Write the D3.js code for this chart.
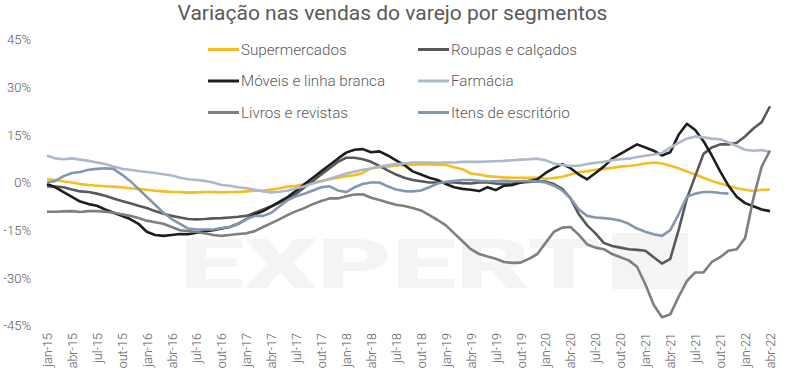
<!DOCTYPE html>
<html>
<head>
<meta charset="utf-8">
<script src="https://cdn.jsdelivr.net/npm/d3@7"></script>
<style>
  body { margin: 0; background: #fff; }
  text { font-family: Roboto, "Open Sans", sans-serif; font-weight: 300; fill: #595959; }
</style>
</head>
<body>
<svg width="792" height="381"></svg>
<script>
// month categories: jan-15 .. abr-22
var monthNames = ["jan","fev","mar","abr","mai","jun","jul","ago","set","out","nov","dez"];
var years = ["15","16","17","18","19","20","21","22"];
var months = [];
years.forEach(function(y) { monthNames.forEach(function(m) { months.push(m + "-" + y); }); });
months = months.slice(0, 88);

var yTicks = [-45, -30, -15, 0, 15, 30, 45];

var supermercados = [1, 0.8, 0.3, 0, -0.5, -0.8, -1, -1.2, -1.3, -1.5, -1.8, -2,
  -2.3, -2.6, -2.8, -3, -3, -3.2, -3.1, -3, -3, -3.1, -3, -3,
  -2.8, -2.6, -2.5, -2.2, -1.8, -1.3, -1, -0.5, 0, 0.5, 1, 1.5,
  2, 2.3, 3, 4.5, 4.8, 5, 5.3, 5.5, 5.6, 5.7, 5.7, 5.6,
  5.5, 4.8, 4.2, 2.8, 2.5, 2, 1.8, 1.6, 1.5, 1.5, 1.5, 1.5,
  1.2, 1.4, 1.8, 2.5, 3.2, 3.5, 4, 4.3, 4.6, 5, 5.2, 5.5,
  6, 6.3, 6, 5.3, 4.5, 3.5, 2.5, 1.5, 0.5, -0.3, -1, -1.8,
  -2.3, -2.7, -2.3, -2.2];

var roupas = [-1.2, -1.3, -1.5, -2.2, -2.8, -3, -3.5, -4.2, -5, -5.8, -6.5, -7.3,
  -8, -9, -9.8, -10.5, -11, -11.5, -11.6, -11.5, -11.3, -11.2, -11, -10.8,
  -10.5, -9.5, -8.5, -7.5, -6.3, -5, -3.5, -1.5, 0.5, 2.5, 4.5, 6.5,
  7.8, 7.8, 7.3, 6.5, 5.2, 3.8, 2.5, 1.5, 0.8, 0.4, 0, 0,
  0, 0, -0.2, -0.3, 0, 0, -0.3, -0.5, -0.3, 0, 0.2, 0.4,
  0.3, -0.5, -2, -5, -10, -13.5, -16, -19, -20, -20.5, -21, -21.2,
  -21.5, -23.5, -25.5, -24, -15, -5, 2, 9, 11, 12, 12, 12.5,
  14.5, 17, 19, 24];

var moveis = [-0.5, -1.5, -3, -4.5, -6, -6.8, -7.3, -8.5, -9.5, -10.5, -11.5, -13,
  -15.5, -16.5, -16.8, -16.5, -16.2, -16.3, -15.8, -15.3, -15, -14.5, -14, -13,
  -11.5, -10, -9, -7.5, -6, -4.5, -2.5, -0.5, 1.5, 3.5, 5.5, 7.5,
  9.4, 10.3, 10.5, 9.5, 9.8, 8.5, 7, 5.5, 3.5, 2.5, 1.5, 0.8,
  -0.5, -1.5, -2, -2.3, -2.7, -1.5, -2.4, -1, -0.8, 0, 0.5, 1,
  3, 4.5, 5.8, 4.5, 2.5, 1, 3, 5, 7.5, 9, 10.5, 12,
  11, 10, 8.5, 9.5, 15, 18.5, 16.5, 13, 8.5, 3.5, -1, -4.5,
  -6.5, -7.5, -8.5, -9];

var farmacia = [8.4, 7.6, 7.3, 7.6, 7.2, 6.8, 6.3, 5.8, 5, 4.3, 4, 3.6,
  3.3, 3, 2.6, 2.2, 1.5, 1, 0.8, 0.5, 0, -0.8, -1, -1.5,
  -1.8, -2.3, -2.8, -3.1, -2.9, -2.5, -1.8, -1.2, -0.3, 0.4, 1.2, 2,
  2.8, 3.4, 4, 4.4, 5, 5.4, 5.8, 6, 6.3, 6.3, 6.3, 6.2,
  6.3, 6.3, 6.5, 6.5, 6.5, 6.6, 6.7, 6.8, 7, 7.2, 7.3, 7.5,
  7, 6, 5.5, 5.2, 5.3, 5.8, 6.2, 6.5, 7, 7.3, 7.5, 8,
  8.4, 8.8, 9.3, 11, 12.5, 13.8, 14.5, 14.2, 13.8, 13.6, 12.6, 11.5,
  10.3, 10, 10.2, 9.6];

var livros = [-9.2, -9.2, -9.1, -9, -9.3, -9, -9, -9.2, -9.5, -10, -10.5, -11.2,
  -12, -12.5, -13, -14, -15, -15.3, -15.6, -16, -16.5, -16.8, -16.5, -16.2,
  -16, -15.3, -14, -12.8, -11.5, -10.2, -9, -8, -6.8, -5.8, -5, -5,
  -4.3, -3.8, -3.7, -4.8, -5.5, -6.3, -7, -7.4, -8, -8.8, -10.3, -11.8,
  -13.5, -16, -18.5, -21, -22.5, -23.3, -24, -25, -25.3, -25.2, -24, -22.5,
  -19, -15.5, -14.2, -14, -16.5, -19.5, -20.5, -21, -22.5, -23.5, -24.5, -26.5,
  -32, -38.5, -42.4, -41.5, -36, -31, -28.3, -28.3, -25, -23.5, -21.5, -21,
  -17.5, -5, 5, 10];

var escritorio = [0, 0.5, 2, 3, 3.3, 4, 4.3, 4.5, 4.3, 2.5, 0.5, -2,
  -4.5, -7, -9.5, -11.5, -13, -14.5, -14.8, -14.8, -14.8, -14.3, -14, -13,
  -11.5, -10.5, -10.5, -9.5, -7.5, -5.5, -4.3, -3.5, -2.5, -1.5, -1.2, -2.5,
  -3, -1.5, -0.5, 0, 0, -1.2, -2.2, -2.7, -2.8, -2.5, -1.5, -0.3,
  0.2, 0.5, 0.8, 0.8, 0.5, 0.4, 0.4, 0.5, 0.4, 0.4, 0.5, 0.3,
  0, -1, -2.5, -5, -8.5, -10.5, -11, -11.2, -11.5, -12, -13, -14.5,
  -15.5, -16.3, -16.8, -15, -10, -4.5, -3.5, -3, -3, -3.3, -3.5];

var series = [
  { name: "Supermercados", values: supermercados, color: "#f5bd1f" },
  { name: "Roupas e calçados", values: roupas, color: "#595959" },
  { name: "Móveis e linha branca", values: moveis, color: "#1e1e1e" },
  { name: "Farmácia", values: farmacia, color: "#adb9ca" },
  { name: "Livros e revistas", values: livros, color: "#7f7f7f" },
  { name: "Itens de escritório", values: escritorio, color: "#8496b0" }
];

var svg = d3.select("svg");

var x = d3.scalePoint().domain(months).range([47, 770]);
var y = d3.scaleLinear().domain([-45, 45]).range([325.5, 39.5]);

// title
svg.append("text").attr("x", 392.5).attr("y", 20).attr("text-anchor", "middle")
  .style("font-size", "21px").style("font-weight", 400).text("Variação nas vendas do varejo por segmentos");

// watermark
var wm = svg.append("g").style("opacity", 0.55);
wm.append("text").attr("x", 180).attr("y", 288).attr("textLength", 420)
  .attr("lengthAdjust", "spacingAndGlyphs")
  .style("font-size", "68px").style("font-weight", 900).style("fill", "#ececec").text("EXPERT");
wm.append("rect").attr("x", 612).attr("y", 233).attr("width", 76).attr("height", 56).attr("fill", "#ececec");

// y axis
var yAxis = svg.append("g").attr("transform", "translate(34,0)")
  .call(d3.axisLeft(y).tickValues(yTicks).tickSize(0).tickPadding(3).tickFormat(function(d) { return d + "%"; }));
yAxis.select(".domain").remove();
yAxis.selectAll("text").style("font-size", "13px").style("fill", "#595959")
  .style("font-family", "Roboto, sans-serif").style("font-weight", 300);

// x axis
var xTicks = months.filter(function(d, i) { return i % 3 === 0; });
var xAxis = svg.append("g").attr("transform", "translate(0,333)")
  .call(d3.axisBottom(x).tickValues(xTicks).tickSize(0).tickPadding(0));
xAxis.select(".domain").remove();
xAxis.selectAll("text")
  .attr("transform", "rotate(-90)")
  .attr("x", 0).attr("y", 0).attr("dy", "0.35em")
  .style("text-anchor", "end")
  .style("font-size", "12.5px").style("fill", "#595959")
  .style("font-family", "Roboto, sans-serif").style("font-weight", 300);

// lines
var line = d3.line()
  .defined(function(d) { return d != null; })
  .x(function(d, i) { return x(months[i]); })
  .y(function(d) { return y(d); });

svg.append("g").selectAll("path").data(series).enter().append("path")
  .attr("d", function(d) { return line(d.values); })
  .attr("fill", "none")
  .attr("stroke", function(d) { return d.color; })
  .attr("stroke-width", 2.6)
  .attr("stroke-linejoin", "round");

// legend
var legend = svg.append("g").selectAll("g").data(series).enter().append("g")
  .attr("transform", function(d, i) {
    var col = i % 2, row = Math.floor(i / 2);
    return "translate(" + (col === 0 ? 208 : 418) + "," + (49.5 + row * 31.5) + ")";
  });
legend.append("line").attr("x1", 0).attr("x2", 31).attr("y1", 0).attr("y2", 0)
  .attr("stroke", function(d) { return d.color; }).attr("stroke-width", 3);
legend.append("text").attr("x", 33).attr("y", 0).attr("dy", "0.35em")
  .style("font-size", "15.2px").text(function(d) { return d.name; });
</script>
</body>
</html>
